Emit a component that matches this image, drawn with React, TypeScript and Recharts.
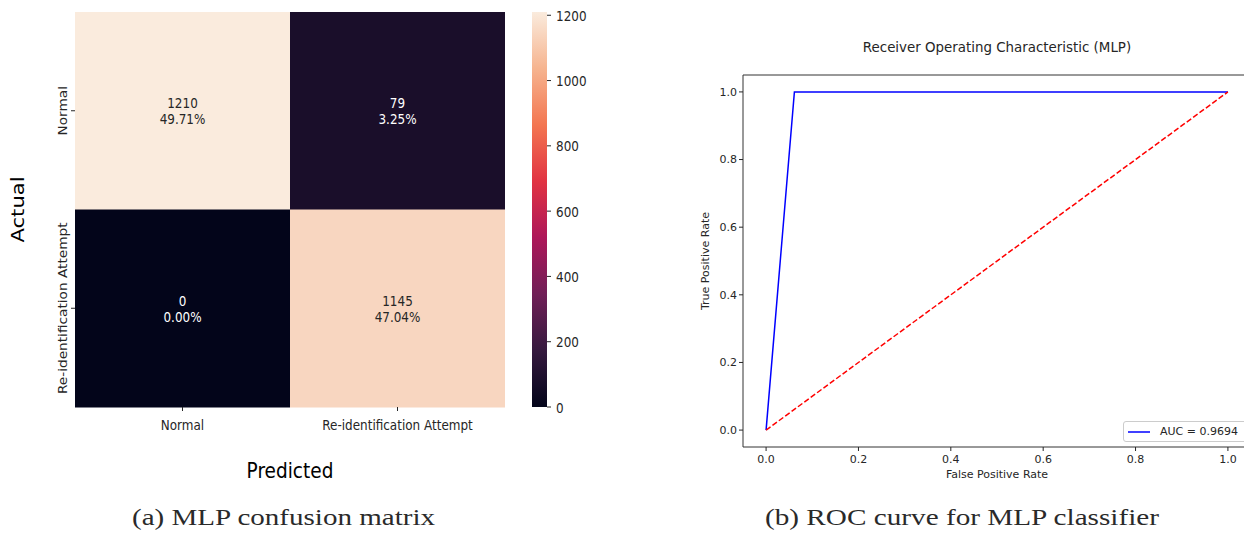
import React from "react";
import {
  BarChart,
  Bar,
  Cell,
  LabelList,
  XAxis,
  YAxis,
  Label,
  LineChart,
  Line,
  Legend,
  ReferenceArea,
} from "recharts";

// confusion matrix: rows are the actual class, columns the predicted class
const classNames = ["Normal", "Re-identification Attempt"];
const actualNormalRow = [1210, 79];
const actualReidRow = [0, 1145];
const colorbarTicks = [0, 200, 400, 600, 800, 1000, 1200];

// ROC curve of the MLP classifier
const rocFpr = [0, 0.0613, 1];
const rocTpr = [0, 1, 1];
const chanceFpr = [0, 1];
const chanceTpr = [0, 1];
const aucScore = 0.9694;
const rateTicks = [0, 0.2, 0.4, 0.6, 0.8, 1.0];

const captionA = "(a) MLP confusion matrix";
const captionB = "(b) ROC curve for MLP classifier";

const INK = "#262626";
const SPINE = "#333333";
const SANS = "'DejaVu Sans', sans-serif";
const SERIF = "'Liberation Serif', serif";
// the heatmap figure is drawn a little taller than wide
const STRETCH = 1.14;

// seaborn "rocket" colormap
const ROCKET = ["#03051a", "#35193e", "#701f57", "#ad1759", "#e13342", "#f37651", "#f6b48f", "#faebdd"];
const ROCKET_POS = [0, 1 / 7, 2 / 7, 3 / 7, 4 / 7, 5 / 7, 6 / 7, 1];

function hexToRgb(h: string) {
  const n = parseInt(h.slice(1), 16);
  return [(n >> 16) & 255, (n >> 8) & 255, n & 255];
}

function rocketColor(t: number) {
  const c = Math.min(1, Math.max(0, t));
  let i = 0;
  while (i < ROCKET_POS.length - 2 && c > ROCKET_POS[i + 1]) i++;
  const f = (c - ROCKET_POS[i]) / (ROCKET_POS[i + 1] - ROCKET_POS[i]);
  const a = hexToRgb(ROCKET[i]);
  const b = hexToRgb(ROCKET[i + 1]);
  const mix = a.map((v, k) => Math.round(v + (b[k] - v) * f));
  return `rgb(${mix[0]},${mix[1]},${mix[2]})`;
}

// same rule seaborn uses to pick dark or white annotation text
function isLight(color: string) {
  const [r, g, b] = color.match(/\d+/g)!.map((v) => {
    const s = Number(v) / 255;
    return s <= 0.03928 ? s / 12.92 : Math.pow((s + 0.055) / 1.055, 2.4);
  });
  return 0.2126 * r + 0.7152 * g + 0.0722 * b > 0.408;
}

const matrixRows = [
  { actual: classNames[0], predNormal: actualNormalRow[0], predReid: actualNormalRow[1] },
  { actual: classNames[1], predNormal: actualReidRow[0], predReid: actualReidRow[1] },
];
const totalCount = [...actualNormalRow, ...actualReidRow].reduce((s, v) => s + v, 0);
const countMax = Math.max(...actualNormalRow, ...actualReidRow);

// every heatmap cell spans one unit of the predicted axis
const spanPredNormal = () => 1;
const spanPredReid = () => 1;

const rocPoints = rocFpr.map((f, i) => ({ fpr: f, tpr: rocTpr[i] }));
const chancePoints = chanceFpr.map((f, i) => ({ fpr: f, tpr: chanceTpr[i] }));

function CountLabel(props: any) {
  const vb = props.viewBox ?? props;
  const { x, y, width, height } = vb;
  const count = Number(props.value);
  const cx = x + width / 2;
  const cy = y + height / 2;
  const fill = isLight(rocketColor(count / countMax)) ? INK : "#ffffff";
  const pct = ((count / totalCount) * 100).toFixed(2) + "%";
  return (
    <g>
      <text transform={`translate(${cx},${cy - 3}) scale(1,${STRETCH})`} textAnchor="middle" fontSize={12} fontFamily={SANS} fill={fill}>
        {count}
      </text>
      <text transform={`translate(${cx},${cy + 13}) scale(1,${STRETCH})`} textAnchor="middle" fontSize={12} fontFamily={SANS} fill={fill}>
        {pct}
      </text>
    </g>
  );
}

const MatrixXTick = ({ x, y, payload }: any) => (
  <text transform={`translate(${x},${y + 17}) scale(1,${STRETCH})`} textAnchor="middle" fontSize={12} fontFamily={SANS} fill={INK}>
    {classNames[Math.floor(payload.value)]}
  </text>
);

const MatrixYTick = ({ x, y, payload }: any) => (
  <text transform={`translate(${x - 2.5},${y}) scale(1,${STRETCH}) rotate(-90)`} textAnchor="middle" fontSize={12} fontFamily={SANS} fill={INK}>
    {payload.value}
  </text>
);

const ColorbarTick = ({ x, y, payload }: any) => (
  <text transform={`translate(${x + 3},${y + 5.5}) scale(1,${STRETCH})`} textAnchor="start" fontSize={12} fontFamily={SANS} fill={INK}>
    {payload.value}
  </text>
);

function ConfusionMatrix() {
  return (
    <BarChart
      layout="vertical"
      width={520}
      height={490}
      data={matrixRows}
      margin={{ top: 12, right: 15, bottom: 63, left: 15 }}
      barCategoryGap={0}
    >
      <XAxis
        type="number"
        domain={[0, 2]}
        ticks={[0.5, 1.5]}
        axisLine={false}
        tickSize={4}
        tickLine={{ stroke: INK }}
        tick={<MatrixXTick />}
        height={20}
      >
        <Label
          content={(p: any) => {
            const vb = p.viewBox;
            return (
              <text transform={`translate(${vb.x + vb.width / 2},${vb.y + 71}) scale(1,${STRETCH})`} textAnchor="middle" fontSize={18.5} fontFamily={SANS} fill="#000">
                Predicted
              </text>
            );
          }}
        />
      </XAxis>
      <YAxis
        type="category"
        dataKey="actual"
        width={60}
        axisLine={false}
        tickSize={4}
        tickLine={{ stroke: INK }}
        tick={<MatrixYTick />}
      >
        <Label
          content={(p: any) => {
            const vb = p.viewBox;
            return (
              <text transform={`translate(${vb.x + 8.5},${vb.y + vb.height / 2}) scale(1,${STRETCH}) rotate(-90)`} textAnchor="middle" fontSize={18.5} fontFamily={SANS} fill="#000">
                Actual
              </text>
            );
          }}
        />
      </YAxis>
      <Bar dataKey={spanPredNormal} stackId="cm" isAnimationActive={false}>
        {matrixRows.map((r, i) => (
          <Cell key={`n-${i}`} fill={rocketColor(r.predNormal / countMax)} />
        ))}
        <LabelList dataKey="predNormal" content={<CountLabel />} />
      </Bar>
      <Bar dataKey={spanPredReid} stackId="cm" isAnimationActive={false}>
        {matrixRows.map((r, i) => (
          <Cell key={`r-${i}`} fill={rocketColor(r.predReid / countMax)} />
        ))}
        <LabelList dataKey="predReid" content={<CountLabel />} />
      </Bar>
    </BarChart>
  );
}

function Colorbar() {
  return (
    <BarChart
      width={100}
      height={440}
      data={[{ level: countMax }]}
      margin={{ top: 12, right: 23, bottom: 33, left: 12 }}
      barCategoryGap={0}
    >
      <defs>
        <linearGradient id="rocketBar" x1="0" y1="1" x2="0" y2="0">
          {ROCKET.map((c, i) => (
            <stop key={c} offset={ROCKET_POS[i]} stopColor={c} />
          ))}
        </linearGradient>
      </defs>
      <XAxis hide />
      <YAxis
        orientation="right"
        type="number"
        domain={[0, countMax]}
        ticks={colorbarTicks}
        width={50}
        axisLine={false}
        tickSize={4}
        tickLine={{ stroke: INK }}
        tick={<ColorbarTick />}
      />
      <Bar dataKey="level" fill="url(#rocketBar)" isAnimationActive={false} />
    </BarChart>
  );
}

function RocLegend({ payload }: any) {
  const items = (payload || []).filter((p: any) => p.type !== "none");
  return (
    <div
      style={{
        boxSizing: "border-box",
        width: 126,
        height: 21,
        border: "1px solid #cccccc",
        borderRadius: 3,
        background: "rgba(255,255,255,0.8)",
        display: "flex",
        alignItems: "center",
        paddingLeft: 3,
      }}
    >
      {items.map((it: any) => (
        <div key={it.value} style={{ display: "flex", alignItems: "center" }}>
          <svg width={24} height={10}>
            <line x1={1} y1={5} x2={23} y2={5} stroke={it.color} strokeWidth={1.5} />
          </svg>
          <span style={{ marginLeft: 9, fontSize: 11, color: INK, fontFamily: SANS, whiteSpace: "nowrap" }}>{it.value}</span>
        </div>
      ))}
    </div>
  );
}

function RocCurve() {
  return (
    <LineChart width={580} height={500} margin={{ top: 75, right: 9, bottom: 23, left: 0 }}>
      <ReferenceArea x1={-0.05} x2={1.05} y1={-0.05} y2={1.05} fill="none" stroke={SPINE} strokeWidth={1} ifOverflow="visible" />
      <XAxis
        type="number"
        dataKey="fpr"
        domain={[-0.05, 1.05]}
        ticks={rateTicks}
        tickFormatter={(v: number) => v.toFixed(1)}
        allowDataOverflow
        axisLine={false}
        tickSize={4}
        tickMargin={4}
        tickLine={{ stroke: INK }}
        tick={{ fontSize: 11, fill: INK, fontFamily: SANS }}
        height={30}
      >
        <Label
          content={(p: any) => {
            const vb = p.viewBox;
            return (
              <text x={vb.x + vb.width / 2} y={vb.y + 31} textAnchor="middle" fontSize={11} fontFamily={SANS} fill={INK}>
                False Positive Rate
              </text>
            );
          }}
        />
      </XAxis>
      <YAxis
        type="number"
        domain={[-0.05, 1.05]}
        ticks={rateTicks}
        tickFormatter={(v: number) => v.toFixed(1)}
        allowDataOverflow
        width={63}
        axisLine={false}
        tickSize={4}
        tickLine={{ stroke: INK }}
        tick={{ fontSize: 11, fill: INK, fontFamily: SANS }}
      >
        <Label
          content={(p: any) => {
            const vb = p.viewBox;
            return (
              <text transform={`translate(${vb.x + 29},${vb.y + vb.height / 2}) rotate(-90)`} textAnchor="middle" fontSize={11} fontFamily={SANS} fill={INK}>
                True Positive Rate
              </text>
            );
          }}
        />
      </YAxis>
      <Line
        data={rocPoints}
        dataKey="tpr"
        name={`AUC = ${aucScore.toFixed(4)}`}
        stroke="#0000ff"
        strokeWidth={1.5}
        dot={false}
        activeDot={false}
        isAnimationActive={false}
      />
      <Line
        data={chancePoints}
        dataKey="tpr"
        name="chance"
        legendType="none"
        stroke="#ff0000"
        strokeWidth={1.5}
        strokeDasharray="5.5 2.4"
        dot={false}
        activeDot={false}
        isAnimationActive={false}
      />
      <Legend
        layout="horizontal"
        verticalAlign="middle"
        align="center"
        wrapperStyle={{ left: 443, top: 421, width: 126, height: 21 }}
        content={<RocLegend />}
      />
    </LineChart>
  );
}

export default function App() {
  return (
    <div style={{ position: "absolute", left: 0, top: 0, width: 1244, height: 533, overflow: "hidden", background: "#ffffff" }}>
      <div style={{ position: "absolute", left: 0, top: 0 }}>
        <ConfusionMatrix />
      </div>
      <div style={{ position: "absolute", left: 520, top: 0 }}>
        <Colorbar />
      </div>
      <div
        style={{
          position: "absolute",
          left: 797,
          top: 40,
          width: 400,
          textAlign: "center",
          fontFamily: SANS,
          fontSize: 13.4,
          lineHeight: "16px",
          color: INK,
        }}
      >
        Receiver Operating Characteristic (MLP)
      </div>
      <div style={{ position: "absolute", left: 680, top: 0 }}>
        <RocCurve />
      </div>
      <svg width={1244} height={533} style={{ position: "absolute", left: 0, top: 0, pointerEvents: "none" }}>
        <text x={283.5} y={525} textAnchor="middle" fontFamily={SERIF} fontSize={23.5} textLength={303} lengthAdjust="spacingAndGlyphs" fill="#2a2a2a">
          {captionA}
        </text>
        <text x={962} y={525} textAnchor="middle" fontFamily={SERIF} fontSize={23.5} textLength={394} lengthAdjust="spacingAndGlyphs" fill="#2a2a2a">
          {captionB}
        </text>
      </svg>
    </div>
  );
}
